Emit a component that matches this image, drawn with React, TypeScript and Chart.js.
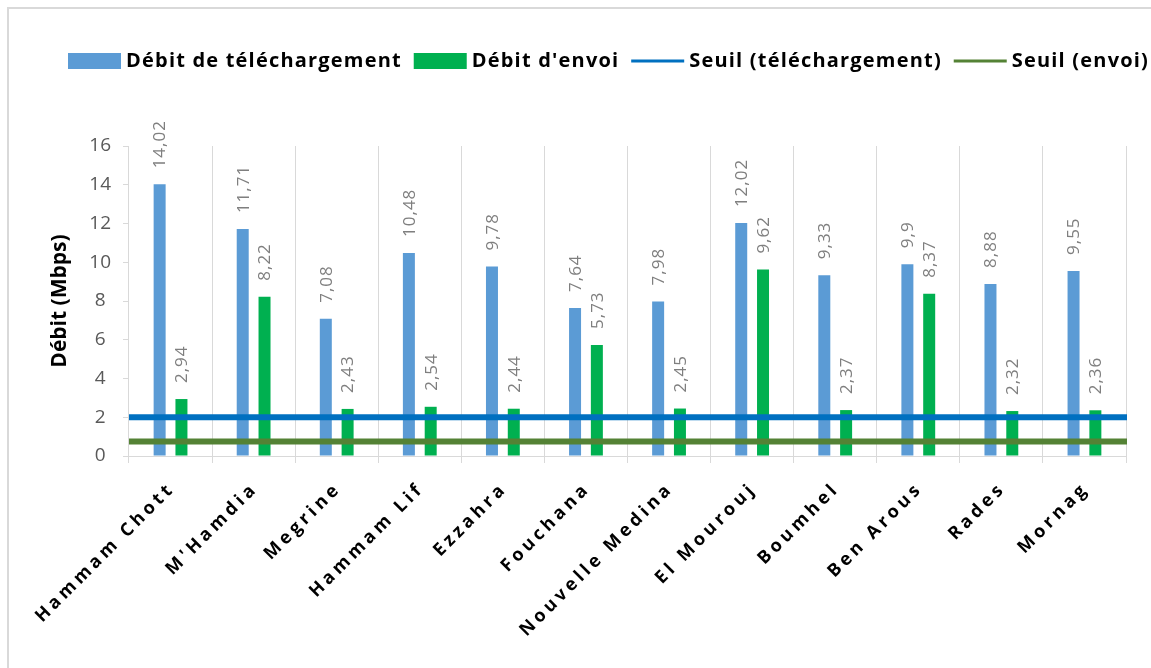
import React, { useEffect, useRef } from 'react';
import { Chart, registerables } from 'chart.js';

Chart.register(...registerables);

const categories = ['Hammam Chott', "M'Hamdia", 'Megrine', 'Hammam Lif', 'Ezzahra', 'Fouchana', 'Nouvelle Medina', 'El Mourouj', 'Boumhel', 'Ben Arous', 'Rades', 'Mornag'];
const debitTelechargement = [14.02, 11.71, 7.08, 10.48, 9.78, 7.64, 7.98, 12.02, 9.33, 9.9, 8.88, 9.55];
const debitEnvoi = [2.94, 8.22, 2.43, 2.54, 2.44, 5.73, 2.45, 9.62, 2.37, 8.37, 2.32, 2.36];
const seuilTelechargement = 2;
const seuilEnvoi = 0.75;
const yTickValues = [0, 2, 4, 6, 8, 10, 12, 14, 16];
const seriesLabels = ['Débit de téléchargement', "Débit d'envoi", 'Seuil (téléchargement)', 'Seuil (envoi)'];
const seriesColors = ['#5B9BD5', '#00B050', '#0070C0', '#548235'];
const seriesKinds = ['bar', 'bar', 'line', 'line'];
const thresholdValues = [seuilTelechargement, seuilEnvoi];
const yTitle = 'Débit (Mbps)';

const FONT = '"Open Sans", "Liberation Sans", sans-serif';

const fmt = (v: number) => String(v).replace('.', ',');

const thresholdPlugin = {
  id: 'thresholds',
  afterDatasetsDraw(chart: any) {
    const ctx = chart.ctx;
    const ys = chart.scales.y;
    const { left, right } = chart.chartArea;
    ctx.save();
    ctx.lineWidth = 6;
    ctx.lineCap = 'butt';
    thresholdValues.forEach((v, i) => {
      const y = ys.getPixelForValue(v);
      ctx.strokeStyle = seriesColors[2 + i];
      ctx.beginPath();
      ctx.moveTo(left, y);
      ctx.lineTo(right + 1, y);
      ctx.stroke();
    });
    ctx.restore();
  },
};

const legendPlugin = {
  id: 'customLegend',
  afterDraw(chart: any) {
    const ctx = chart.ctx;
    const ls = 1.2;
    ctx.save();
    ctx.font = `bold 20px ${FONT}`;
    (ctx as any).letterSpacing = `${ls}px`;
    ctx.textBaseline = 'alphabetic';
    ctx.textAlign = 'left';
    let x = 59;
    seriesLabels.forEach((label, i) => {
      ctx.fillStyle = seriesColors[i];
      if (seriesKinds[i] === 'line') {
        ctx.fillRect(x, 50.5, 53, 3);
      } else {
        ctx.fillRect(x, 44, 53, 16);
      }
      ctx.fillStyle = '#000';
      ctx.fillText(label, x + 58, 58);
      x += 58 + ctx.measureText(label).width - ls + 13;
    });
    ctx.restore();
  },
};

const xLabelPlugin = {
  id: 'xLabels',
  afterDraw(chart: any) {
    const ctx = chart.ctx;
    const xs = chart.scales.x;
    const ls = 3.8;
    ctx.save();
    ctx.font = `bold 18px ${FONT}`;
    (ctx as any).letterSpacing = `${ls}px`;
    ctx.fillStyle = '#000';
    ctx.textAlign = 'right';
    ctx.textBaseline = 'alphabetic';
    chart.data.labels.forEach((lab: string, i: number) => {
      const px = xs.getPixelForValue(i);
      ctx.save();
      ctx.translate(px + 2.5, xs.top + 36);
      ctx.rotate(-Math.PI / 4);
      ctx.fillText(lab, ls, 0);
      ctx.restore();
    });
    ctx.restore();
  },
};

const dataLabelPlugin = {
  id: 'dataLabels',
  afterDatasetsDraw(chart: any) {
    const ctx = chart.ctx;
    ctx.save();
    ctx.font = `17px ${FONT}`;
    (ctx as any).letterSpacing = '1px';
    ctx.fillStyle = '#7f7f7f';
    ctx.textAlign = 'left';
    ctx.textBaseline = 'middle';
    chart.data.datasets.forEach((ds: any, di: number) => {
      const meta = chart.getDatasetMeta(di);
      meta.data.forEach((el: any, i: number) => {
        ctx.save();
        ctx.translate(el.x + 1, el.y - 16);
        ctx.rotate(-Math.PI / 2);
        ctx.fillText(fmt(ds.data[i]), 0, 0);
        ctx.restore();
      });
    });
    ctx.restore();
  },
};

export default function App() {
  const ref = useRef<HTMLCanvasElement>(null);
  useEffect(() => {
    if (!ref.current) return;
    const chart = new Chart(ref.current, {
      type: 'bar',
      data: {
        labels: categories,
        datasets: [
          {
            label: seriesLabels[0],
            data: debitTelechargement,
            backgroundColor: seriesColors[0],
            borderWidth: 0,
            categoryPercentage: 0.525,
            barPercentage: 0.55,
          },
          {
            label: seriesLabels[1],
            data: debitEnvoi,
            backgroundColor: seriesColors[1],
            borderWidth: 0,
            categoryPercentage: 0.525,
            barPercentage: 0.55,
          },
        ],
      },
      options: {
        responsive: false,
        animation: false,
        layout: { padding: { top: 137, right: 25, bottom: 0, left: 0 } },
        plugins: { legend: { display: false }, tooltip: { enabled: false } },
        scales: {
          x: {
            type: 'category',
            offset: true,
            grid: { offset: true, color: '#d9d9d9', lineWidth: 1, drawTicks: true, tickLength: 7 },
            border: { display: true, color: '#d9d9d9', width: 1 },
            ticks: { display: false },
            afterFit: (s: any) => { s.height = 203; },
          },
          y: {
            min: 0,
            max: 16,
            afterBuildTicks: (s: any) => { s.ticks = yTickValues.map((v) => ({ value: v })); },
            ticks: { color: '#595959', font: { family: FONT, size: 19 }, crossAlign: 'center', padding: 12 },
            grid: { drawOnChartArea: false, drawTicks: true, tickLength: 6, color: '#d9d9d9' },
            border: { display: false },
            title: { display: true, text: yTitle, color: '#000', font: { family: FONT, size: 21, weight: 'bold' }, padding: { top: 38, bottom: 0 } },
            afterFit: (s: any) => { s.width = 120; },
          },
        } as any,
      },
      plugins: [thresholdPlugin, dataLabelPlugin, legendPlugin, xLabelPlugin],
    });
    return () => chart.destroy();
  }, []);

  return (
    <div style={{ position: 'fixed', left: 7, top: 7, width: 1200, height: 700, boxSizing: 'border-box', borderTop: '2px solid #d9d9d9', borderLeft: '2px solid #d9d9d9', background: '#fff', overflow: 'hidden' }}>
      <canvas ref={ref} width={1142} height={650} style={{ display: 'block' }} />
    </div>
  );
}
